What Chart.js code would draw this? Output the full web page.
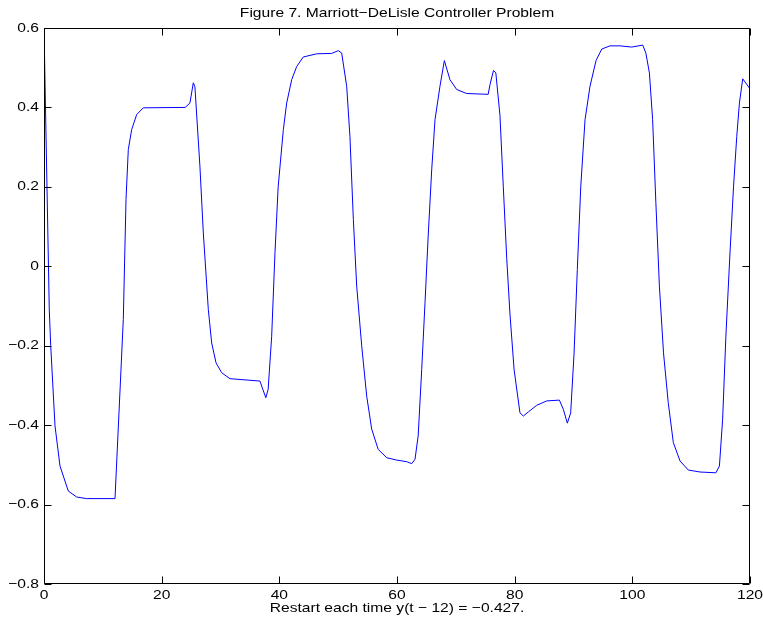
<!DOCTYPE html>
<html>
<head>
<meta charset="utf-8">
<title>Figure 7. Marriott−DeLisle Controller Problem</title>
<script src="https://cdn.jsdelivr.net/npm/chart.js@4/dist/chart.umd.min.js"></script>
<style>
  html, body { margin: 0; padding: 0; background: #fff; }
  #wrap { width: 763px; height: 630px; }
</style>
</head>
<body>
<div id="wrap"><canvas id="chart" width="763" height="630"></canvas></div>
<script>
//Textos
const TITLE = "Figure 7. Marriott\u2212DeLisle Controller Problem";
const X_LABEL = "Restart each time y(t \u2212 12) = \u22120.427.";

//Ejes
const xTicks = [0, 20, 40, 60, 80, 100, 120];
const xTickLabels = ["0", "20", "40", "60", "80", "100", "120"];
const yTicks = [-0.8, -0.6, -0.4, -0.2, 0, 0.2, 0.4, 0.6];
const yTickLabels = ["\u22120.8", "\u22120.6", "\u22120.4", "\u22120.2", "0", "0.2", "0.4", "0.6"];

//Serie (tiempo, salida)
const timeValues = [
  0, 0.9, 1.14, 1.87, 2.72, 4.13, 5.55, 7.26, 12.07, 13.48,
  13.94, 14.33, 14.9, 15.75, 16.88, 24.0, 24.8, 25.38, 25.65, 26.5,
  27.08, 27.93, 28.5, 29.24, 30.2, 31.6, 35.0, 36.7, 37.7, 38.1,
  38.7, 39.26, 39.8, 40.68, 41.25, 42.1, 42.95, 44.07, 46.35, 48.9,
  50.03, 50.6, 51.45, 52.0, 52.58, 53.15, 54.0, 54.85, 55.7, 56.8,
  58.25, 59.95, 61.65, 62.5, 63.06, 63.6, 64.2, 64.76, 65.3, 65.9,
  66.46, 67.3, 68.05, 69.0, 70.15, 71.85, 75.5, 75.8, 76.4, 76.8,
  77.5, 78.07, 78.65, 79.2, 79.9, 80.9, 81.47, 82.3, 83.75, 85.45,
  87.6, 88.27, 88.95, 89.52, 90.1, 90.65, 91.23, 91.96, 92.8, 93.83,
  94.8, 96.2, 97.9, 99.9, 101.77, 102.3, 102.9, 103.45, 104.0, 104.6,
  105.3, 106.1, 106.97, 108.1, 109.5, 111.5, 114.2, 114.8, 115.35, 115.9,
  116.6, 117.2, 117.75, 118.2, 118.76, 119.9, 120
];
const outputValues = [
  0.6, -0.11, -0.2, -0.402, -0.503, -0.566, -0.581, -0.585, -0.585, -0.134,
  0.168, 0.294, 0.344, 0.382, 0.399, 0.4, 0.411, 0.462, 0.452, 0.252,
  0.084, -0.109, -0.193, -0.243, -0.268, -0.283, -0.287, -0.289, -0.331, -0.31,
  -0.176, 0.034, 0.2, 0.344, 0.411, 0.47, 0.503, 0.527, 0.535, 0.536,
  0.543, 0.537, 0.453, 0.327, 0.118, -0.05, -0.2, -0.327, -0.41, -0.461,
  -0.482, -0.488, -0.492, -0.497, -0.486, -0.427, -0.26, -0.092, 0.076, 0.243,
  0.369, 0.453, 0.518, 0.47, 0.445, 0.435, 0.433, 0.457, 0.493, 0.487,
  0.38, 0.2, 0.02, -0.12, -0.26, -0.369, -0.377, -0.367, -0.35, -0.339,
  -0.337, -0.36, -0.395, -0.369, -0.218, -0.008, 0.2, 0.369, 0.453, 0.518,
  0.547, 0.555, 0.555, 0.552, 0.557, 0.537, 0.487, 0.369, 0.16, -0.05,
  -0.218, -0.343, -0.444, -0.49, -0.513, -0.518, -0.52, -0.503, -0.385, -0.176,
  0.034, 0.2, 0.327, 0.411, 0.472, 0.449, 0.445
];

const FONT = "13px 'Liberation Sans', Arial, Helvetica, sans-serif";
const STRETCH = 1.2;   //el original tiene el texto algo ensanchado
const TICK_LEN = 7;

function drawText(ctx, text, x, y, align, baseline) {
  ctx.save();
  ctx.translate(x, y);
  ctx.scale(STRETCH, 1);
  ctx.textAlign = align;
  ctx.textBaseline = baseline;
  ctx.fillText(text, 0, 0);
  ctx.restore();
}

//Caja, marcas hacia adentro y textos (estilo MATLAB)
const boxPlugin = {
  id: "boxTicks",
  afterDraw(chart) {
    const { ctx, chartArea: a, scales } = chart;
    const L = Math.round(a.left) + 0.5, R = Math.round(a.right) - 0.5;
    const T = Math.round(a.top) + 0.5, B = Math.round(a.bottom) - 0.5;
    ctx.save();
    ctx.strokeStyle = "#000";
    ctx.lineWidth = 1;
    ctx.beginPath();
    ctx.rect(L, T, R - L, B - T);
    xTicks.forEach(v => {
      const px = Math.round(scales.x.getPixelForValue(v)) + 0.5;
      ctx.moveTo(px, B); ctx.lineTo(px, B - TICK_LEN);
      ctx.moveTo(px, T); ctx.lineTo(px, T + TICK_LEN);
    });
    yTicks.forEach(v => {
      const py = Math.round(scales.y.getPixelForValue(v)) + 0.5;
      ctx.moveTo(L, py); ctx.lineTo(L + TICK_LEN, py);
      ctx.moveTo(R, py); ctx.lineTo(R - TICK_LEN, py);
    });
    ctx.stroke();

    ctx.fillStyle = "#000";
    ctx.font = FONT;
    xTicks.forEach((v, i) => {
      drawText(ctx, xTickLabels[i], scales.x.getPixelForValue(v), a.bottom + 15, "center", "alphabetic");
    });
    yTicks.forEach((v, i) => {
      drawText(ctx, yTickLabels[i], a.left - 5, scales.y.getPixelForValue(v), "right", "middle");
    });
    const cx = (a.left + a.right) / 2;
    drawText(ctx, TITLE, cx, 17, "center", "alphabetic");
    drawText(ctx, X_LABEL, cx, a.bottom + 28, "center", "alphabetic");
    ctx.restore();
  }
};

const points = timeValues.map((t, i) => ({ x: t, y: outputValues[i] }));

new Chart(document.getElementById("chart"), {
  type: "line",
  data: {
    datasets: [{
      data: points,
      borderColor: "#0000ff",
      borderWidth: 1,
      pointRadius: 0,
      tension: 0,
      fill: false
    }]
  },
  options: {
    responsive: false,
    animation: false,
    layout: { padding: { left: 44, right: 13, top: 28, bottom: 46 } },
    plugins: { legend: { display: false }, tooltip: { enabled: false }, title: { display: false } },
    scales: {
      x: { type: "linear", min: 0, max: 120, display: false },
      y: { type: "linear", min: -0.8, max: 0.6, display: false }
    }
  },
  plugins: [boxPlugin]
});
</script>
</body>
</html>
